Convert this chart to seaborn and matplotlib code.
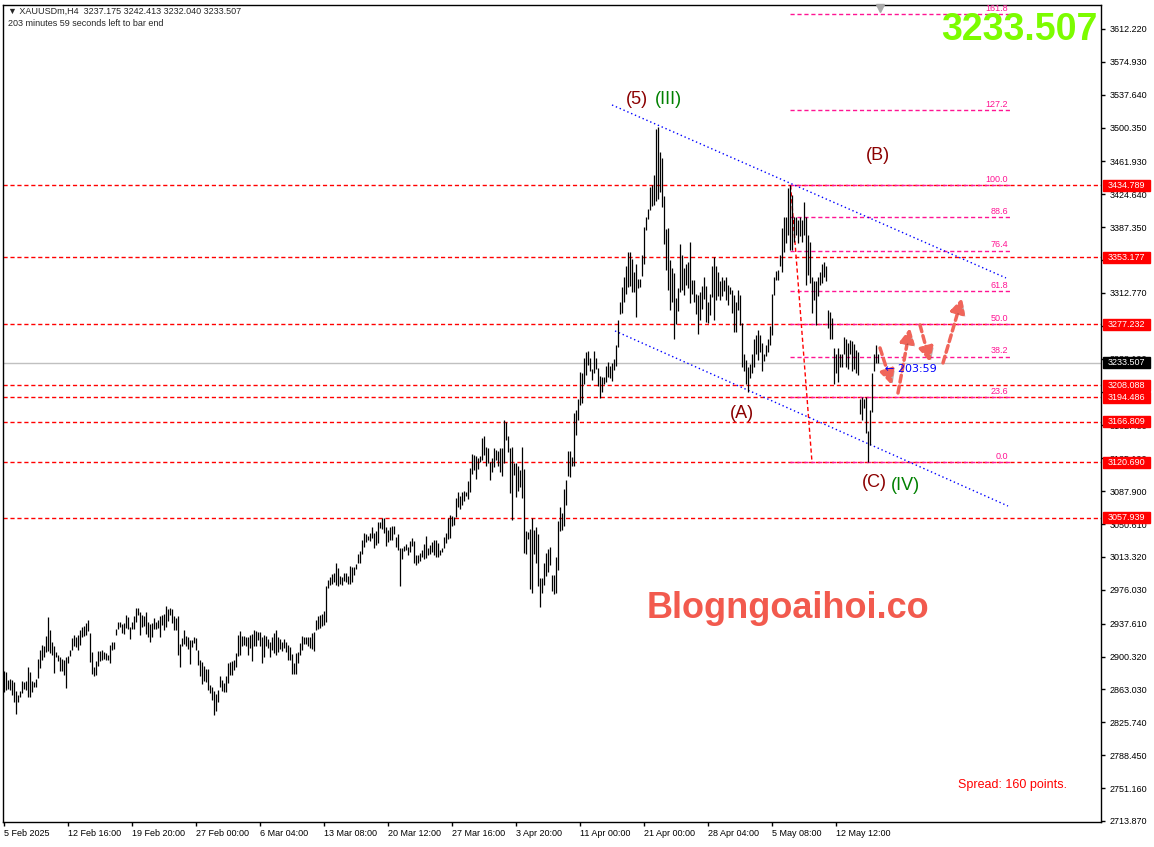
import numpy as np
import pandas as pd
import matplotlib
matplotlib.use("Agg")
import matplotlib.pyplot as plt
import matplotlib.patheffects as pe
import matplotlib.transforms as mtransforms
from matplotlib.patches import Rectangle
import seaborn as sns

# XAUUSDm H4 bars (high / low per bar)
highs = [
    2884, 2883, 2874, 2875, 2874, 2871, 2861, 2857, 2861, 2873,
    2872, 2873, 2889, 2883, 2873, 2872, 2875, 2898, 2908, 2914,
    2912, 2924, 2945, 2931, 2917, 2912, 2906, 2902, 2900, 2898,
    2897, 2900, 2901, 2908, 2921, 2925, 2922, 2925, 2931, 2934,
    2935, 2938, 2942, 2927, 2905, 2889, 2895, 2907, 2907, 2908,
    2906, 2904, 2902, 2913, 2917, 2917, 2932, 2939, 2939, 2937,
    2938, 2948, 2945, 2934, 2940, 2946, 2956, 2956, 2951, 2948,
    2946, 2951, 2939, 2937, 2938, 2944, 2940, 2942, 2946, 2948,
    2949, 2958, 2954, 2956, 2954, 2946, 2944, 2946, 2915, 2921,
    2931, 2924, 2923, 2919, 2919, 2922, 2921, 2908, 2897, 2894,
    2890, 2886, 2886, 2868, 2866, 2861, 2858, 2862, 2878, 2874,
    2870, 2878, 2893, 2894, 2895, 2897, 2904, 2925, 2929, 2924,
    2924, 2923, 2923, 2925, 2926, 2931, 2929, 2928, 2928, 2922,
    2925, 2924, 2920, 2917, 2923, 2927, 2931, 2922, 2920, 2917,
    2920, 2917, 2914, 2911, 2903, 2893, 2904, 2905, 2916, 2924,
    2923, 2923, 2922, 2923, 2927, 2928, 2942, 2946, 2948, 2949,
    2952, 2980, 2987,
    2991, 2994, 2995, 3006, 3001, 2992, 2991, 2995, 2995, 2992,
    3003, 3002, 3002, 3005, 3017, 3020, 3033, 3040, 3039, 3037,
    3040, 3047, 3041, 3043, 3053, 3053, 3057, 3058, 3047, 3044,
    3047, 3048, 3048, 3036, 3039, 3024, 3023, 3026, 3028, 3025,
    3031, 3035, 3031, 3016, 3016, 3018, 3021, 3028, 3037, 3023,
    3027, 3030, 3033, 3033, 3029, 3021, 3023, 3036, 3041, 3058,
    3061, 3060, 3059, 3080, 3087, 3083, 3087, 3088, 3087, 3099,
    3114, 3130, 3129, 3128, 3126, 3128, 3148, 3151, 3138, 3137,
    3121, 3126, 3137, 3135, 3134, 3137, 3137, 3169, 3166, 3151,
    3137, 3138, 3120, 3120, 3117, 3112, 3138, 3113, 3043, 3042,
    3045, 3058, 3044, 3047, 3039, 2990, 2990, 3006, 3018, 3022,
    3025, 2993, 2993, 3013, 3054, 3070, 3063, 3090, 3101, 3134,
    3134, 3127, 3177, 3180, 3193, 3223, 3222, 3239, 3246, 3247,
    3239, 3227, 3247, 3239, 3228, 3219, 3218, 3217, 3230, 3234,
    3230, 3233, 3238, 3254, 3282, 3303, 3320, 3331, 3343, 3359,
    3359, 3351, 3337, 3346, 3329, 3329, 3356, 3388, 3399, 3408,
    3433, 3435, 3447, 3499, 3501, 3473, 3466, 3423, 3385, 3387,
    3350, 3341, 3335, 3307, 3318, 3368, 3356, 3341, 3346, 3348,
    3371, 3328, 3327, 3312, 3310, 3314, 3321, 3331, 3321, 3303,
    3312, 3343, 3354, 3343, 3337, 3326, 3331, 3327, 3331, 3322,
    3320, 3316, 3311, 3303, 3316, 3311, 3279, 3244, 3237, 3229,
    3232, 3244, 3261, 3265, 3271, 3265, 3256, 3243, 3254, 3261,
    3275, 3312, 3331, 3338, 3339, 3356, 3386, 3399, 3399, 3432,
    3435, 3424, 3399, 3399, 3396, 3399, 3396, 3416, 3399, 3379,
    3371, 3331, 3326, 3326, 3331, 3337, 3346, 3348, 3343, 3294,
    3291, 3284, 3250, 3244, 3250, 3243, 3244, 3263, 3261, 3256,
    3259, 3258, 3255, 3248, 3246, 3193, 3195, 3193, 3195, 3156,
    3180, 3222, 3243, 3254, 3243,
]
lows = [
    2860, 2862, 2864, 2862, 2857, 2849, 2835, 2849, 2855, 2859,
    2864, 2862, 2854, 2854, 2860, 2866, 2866, 2876, 2887, 2897,
    2900, 2906, 2907, 2904, 2902, 2882, 2900, 2895, 2884, 2884,
    2880, 2865, 2893, 2901, 2908, 2912, 2911, 2908, 2914, 2923,
    2924, 2925, 2929, 2894, 2881, 2878, 2879, 2890, 2895, 2897,
    2898, 2897, 2897, 2893, 2908, 2909, 2925, 2932, 2934, 2927,
    2926, 2933, 2932, 2920, 2932, 2932, 2939, 2948, 2925, 2934,
    2935, 2926, 2923, 2917, 2923, 2932, 2932, 2933, 2923, 2936,
    2931, 2934, 2941, 2948, 2938, 2931, 2931, 2902, 2889, 2912,
    2915, 2912, 2909, 2892, 2911, 2916, 2908, 2891, 2878, 2869,
    2873, 2871, 2862, 2859, 2851, 2834, 2839, 2849, 2866, 2861,
    2860, 2860, 2870, 2879, 2880, 2885, 2889, 2901, 2902, 2912,
    2914, 2912, 2902, 2910, 2895, 2912, 2912, 2919, 2912, 2893,
    2900, 2912, 2910, 2900, 2908, 2904, 2902, 2906, 2909, 2907,
    2910, 2905, 2897, 2897, 2881, 2881, 2881, 2893, 2902, 2908,
    2915, 2915, 2912, 2910, 2909, 2907, 2931, 2932, 2933, 2935,
    2936, 2940, 2978,
    2982, 2983, 2985, 2982, 2980, 2983, 2982, 2986, 2985, 2983,
    2983, 2985, 2993, 3000, 3006, 3007, 3017, 3025, 3030, 3032,
    3031, 3035, 3024, 3027, 3029, 3046, 3045, 3041, 3026, 3030,
    3033, 3032, 3039, 3025, 3021, 2980, 3011, 3020, 3021, 3015,
    3019, 3026, 3007, 3004, 3007, 3009, 3013, 3011, 3012, 3015,
    3017, 3019, 3015, 3013, 3013, 3016, 3019, 3024, 3029, 3034,
    3035, 3048, 3050, 3059, 3070, 3068, 3072, 3077, 3082, 3079,
    3087, 3107, 3112, 3102, 3113, 3121, 3123, 3129, 3117, 3120,
    3101, 3110, 3115, 3123, 3116, 3110, 3105, 3120, 3146, 3132,
    3086, 3055, 3106, 3081, 3088, 3093, 3080, 3018, 3017, 3034,
    2977, 2972, 3017, 3007, 2980, 2957, 2972, 2982, 2992, 2996,
    3004, 2975, 2971, 2973, 2999, 3043, 3044, 3049, 3072, 3105,
    3104, 3116, 3117, 3152, 3169, 3186, 3188, 3210, 3220, 3231,
    3224, 3214, 3222, 3226, 3207, 3194, 3200, 3210, 3212, 3218,
    3216, 3213, 3225, 3230, 3252, 3289, 3290, 3303, 3312, 3320,
    3321, 3314, 3314, 3285, 3318, 3320, 3332, 3346, 3384, 3397,
    3407, 3411, 3413, 3417, 3419, 3427, 3410, 3368, 3339, 3316,
    3293, 3303, 3261, 3278, 3292, 3314, 3316, 3311, 3322, 3318,
    3301, 3312, 3303, 3289, 3266, 3282, 3295, 3306, 3280, 3279,
    3288, 3308, 3282, 3305, 3309, 3305, 3309, 3315, 3305, 3299,
    3312, 3290, 3269, 3269, 3294, 3277, 3229, 3224, 3210, 3201,
    3216, 3222, 3229, 3243, 3237, 3246, 3224, 3236, 3241, 3246,
    3254, 3265, 3311, 3328, 3328, 3343, 3337, 3359, 3369, 3379,
    3362, 3362, 3371, 3379, 3369, 3377, 3371, 3379, 3322, 3333,
    3324, 3290, 3305, 3277, 3309, 3322, 3324, 3331, 3326, 3273,
    3260, 3260, 3210, 3222, 3212, 3229, 3229, 3243, 3229, 3227,
    3243, 3224, 3227, 3222, 3220, 3176, 3169, 3182, 3154, 3121,
    3140, 3178, 3224, 3233, 3233,
]

x_labels = ["5 Feb 2025", "12 Feb 16:00", "19 Feb 20:00", "27 Feb 00:00",
            "6 Mar 04:00", "13 Mar 08:00", "20 Mar 12:00", "27 Mar 16:00",
            "3 Apr 20:00", "11 Apr 00:00", "21 Apr 00:00", "28 Apr 04:00",
            "5 May 08:00", "12 May 12:00"]
y_ticks = [3612.220, 3574.930, 3537.640, 3500.350, 3461.930, 3424.640,
           3387.350, 3350.060, 3312.770, 3275.480, 3238.190, 3199.900,
           3162.480, 3125.190, 3087.900, 3050.610, 3013.320, 2976.030,
           2937.610, 2900.320, 2863.030, 2825.740, 2788.450, 2751.160,
           2713.870]

levels = [3434.789, 3353.177, 3277.232, 3208.088, 3194.486,
          3166.809, 3120.690, 3057.939]
current_price = 3233.507
header_ohlc = "3237.175 3242.413 3232.040 3233.507"

fib_levels = [0.0, 23.6, 38.2, 50.0, 61.8, 76.4, 88.6, 100.0, 127.2, 161.8]
fib_low, fib_high = 3120.690, 3434.789
fib_bars = (393, 503)
fib_trend = [(393.3, 3434.789), (404, 3120.690)]

# channel lines (bar index, price)
upper_channel = [(304, 3526.0), (501, 3329.8)]
lower_channel = [(305.5, 3269.7), (502, 3071.1)]

# wave labels: text, bar, price, colour
wave_labels = [("(5)", 316.3, 3531.7, "#8B0000"),
               ("(III)", 332.0, 3531.7, "#008000"),
               ("(B)", 437.0, 3468.2, "#8B0000"),
               ("(A)", 369.0, 3176.6, "#8B0000"),
               ("(C)", 435.0, 3097.8, "#8B0000"),
               ("(IV)", 450.8, 3094.5, "#008000")]

# projected zigzag arrows: (bar0, price0, bar1, price1)
zigzag = [(438.0, 3250.4, 443.9, 3208.4),
          (447.0, 3199.3, 453.0, 3273.1),
          (458.0, 3276.5, 463.0, 3234.5),
          (469.5, 3233.4, 479.0, 3307.1)]

sns.set_theme(style="white")
plt.rcParams['font.family'] = ['Liberation Sans', 'DejaVu Sans']

bars = pd.DataFrame({'high': highs, 'low': lows})
bars['i'] = np.arange(len(bars))

fig = plt.figure(figsize=(11.54, 8.47), dpi=100)
ax = fig.add_axes([3 / 1154, 25 / 847, 1098 / 1154, 817 / 847])
ax.set_facecolor('white')

ax.vlines(bars['i'], bars['low'], bars['high'], color='black', lw=0.9, zorder=3)

# current price line
ax.axhline(current_price, color='#C0C0C0', lw=1, zorder=1)

# horizontal support/resistance levels
for p in levels:
    ax.axhline(p, color='red', lw=1, ls=(0, (3, 2)), zorder=2)

# fibonacci
fib_prices = [fib_low + (fib_high - fib_low) * l / 100 for l in fib_levels]
ax.hlines(fib_prices, fib_bars[0], fib_bars[1], color='#FF1493', lw=1,
          ls=(0, (3, 2)), zorder=2)
for l, p in zip(fib_levels, fib_prices):
    ax.text(fib_bars[1] - 1, p + 1.5, f"{l:.1f}", color='#FF1493', fontsize=6.5,
            ha='right', va='bottom', zorder=7)
ax.plot([fib_trend[0][0], fib_trend[1][0]], [fib_trend[0][1], fib_trend[1][1]],
        color='red', lw=1, ls=(0, (3, 2)), zorder=2)

# channel
for ln in (upper_channel, lower_channel):
    sns.lineplot(x=[ln[0][0], ln[1][0]], y=[ln[0][1], ln[1][1]], ax=ax,
                 color='blue', lw=1, linestyle=(0, (1, 2)), zorder=2)

for txt, bx, py, col in wave_labels:
    ax.text(bx, py, txt, color=col, fontsize=13, ha='center', va='center')

shadow = [pe.SimplePatchShadow(offset=(1.5, -1.5), alpha=0.35), pe.Normal()]
for b0, p0, b1, p1 in zigzag:
    ax.annotate('', xy=(b1, p1), xytext=(b0, p0),
                arrowprops=dict(arrowstyle='-|>,head_length=0.7,head_width=0.35',
                                color='#F0655A', lw=2.5, linestyle=(0, (2, 1.2)),
                                shrinkA=0, shrinkB=0, path_effects=shadow),
                zorder=5)

ax.text(440.5, 3226.6, "\u2190 203:59", color='blue', fontsize=8,
        family='DejaVu Sans', ha='left', va='center', zorder=6)

# axes
ax.set_xlim(-0.5, 548.5)
ax.set_ylim(2712.7, 3639.4)
ax.yaxis.tick_right()
ax.set_yticks(y_ticks, [f"{v:.3f}" for v in y_ticks])
ax.set_xticks([32 * k for k in range(len(x_labels))], x_labels, ha='left')
ax.tick_params(axis='both', which='both', direction='out', length=3, width=1,
               color='black', labelsize=6.5, labelcolor='black', pad=2,
               right=True, bottom=True, left=False)
ax.tick_params(axis='y', pad=3)
for s in ax.spines.values():
    s.set_color('black')
    s.set_linewidth(1)
    s.set_visible(True)
ax.grid(False)

# price-scale boxes
tr = mtransforms.blended_transform_factory(ax.transAxes, ax.transData)
box_w = 47 / 1098
box_h = 12.5
for p in levels:
    ax.add_patch(Rectangle((1.0018, p - box_h / 2), box_w, box_h, transform=tr,
                           color='red', clip_on=False, zorder=10))
    ax.text(1.0018 + box_w / 2, p, f"{p:.3f}", transform=tr, color='white',
            fontsize=6.5, ha='center', va='center', clip_on=False, zorder=11)
ax.add_patch(Rectangle((1.0018, current_price - box_h / 2), box_w, box_h,
                       transform=tr, color='black', clip_on=False, zorder=10))
ax.text(1.0018 + box_w / 2, current_price, f"{current_price:.3f}", transform=tr,
        color='white', fontsize=6.5, ha='center', va='center', clip_on=False,
        zorder=11)

# chart-shift marker
ax.plot([438], [3636], marker='v', color='#A8A8A8', ms=6, clip_on=False, zorder=6)

fig.text(8 / 1154, 1 - 11 / 847, "\u25bc XAUUSDm,H4  " + header_ohlc,
         fontsize=6.5, ha='left', va='center')
fig.text(8 / 1154, 1 - 24 / 847, "203 minutes 59 seconds left to bar end",
         fontsize=6.5, ha='left', va='center')
fig.text(1098 / 1154, 1 - 40 / 847, f"{current_price:.3f}", fontsize=27,
         fontweight='bold', color='#7CFC00', ha='right', va='baseline')
fig.text(788 / 1154, 1 - 608 / 847, "Blogngoaihoi.co", fontsize=26,
         fontweight='bold', color='#F25A4E', ha='center', va='center')
fig.text(958 / 1154, 1 - 785 / 847, "Spread: 160 points.", fontsize=9,
         color='red', ha='left', va='center')

fig.savefig('out.png', dpi=100, facecolor='white')
